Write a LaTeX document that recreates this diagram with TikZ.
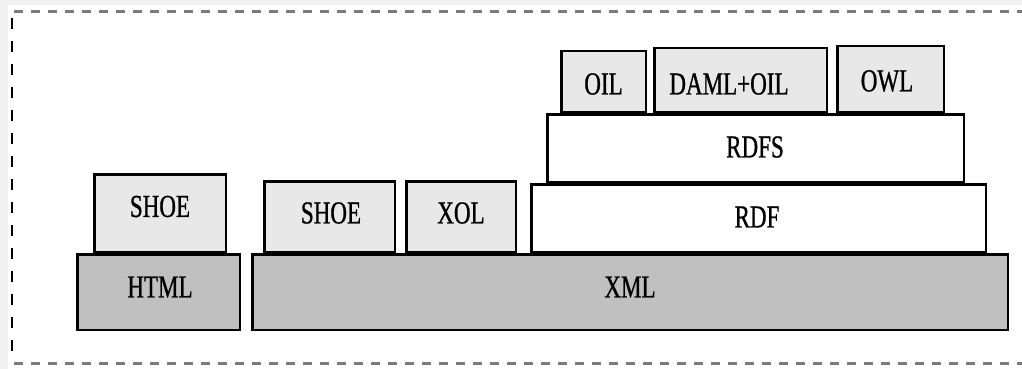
\documentclass[tikz,border=0pt]{standalone}
\usepackage{fontspec}
\newfontfamily\lblfont[FakeStretch=0.72, FakeBold=0.8]{Liberation Serif}
\definecolor{layergray}{HTML}{C0C0C0}
\definecolor{langgray}{HTML}{E8E8E8}
\definecolor{dashgray}{HTML}{7A7A7A}
\definecolor{edgegray}{HTML}{F0F0F0}
\tikzset{
  layer/.style={draw=black, line width=2.5pt, rectangle, inner sep=0pt},
  base/.style={layer, fill=layergray},
  lang/.style={layer, fill=langgray},
  plain/.style={layer, fill=white},
  lbl/.style={inner sep=0pt, font=\lblfont\fontsize{32}{36}\selectfont}
}
\begin{document}
\begin{tikzpicture}[x=1pt, y=-1pt]
  % page and frame
  \fill[edgegray] (0,0) rectangle (1022,369);
  \fill[white] (8,5) rectangle (1022,369);
  \useasboundingbox (0,0) rectangle (1022,369);
  \draw[dashgray, line width=3pt, dash pattern=on 9pt off 8pt] (14,12) -- (1022,12);
  \draw[dashgray, line width=3pt, dash pattern=on 9pt off 8pt] (14,363) -- (1022,363);
  \draw[black, line width=2.5pt, dash pattern=on 11pt off 12pt] (12,18) -- (12,360);

  % upper layers
  \node[lang, minimum width=131.5pt, minimum height=77.5pt] (shoeA) at (160,213) {};
  \node[lang, minimum width=130.5pt, minimum height=70.5pt] (shoeB) at (329.5,216.5) {};
  \node[lang, minimum width=109.5pt, minimum height=70.5pt] (xol) at (461,216.5) {};
  \node[plain, minimum width=454.5pt, minimum height=67.5pt] (rdf) at (758.5,218) {};
  \node[plain, minimum width=416.5pt, minimum height=67.5pt] (rdfs) at (755.5,148) {};
  \node[lang, minimum width=84.5pt, minimum height=60.5pt] (oil) at (603.5,81.5) {};
  \node[lang, minimum width=172.5pt, minimum height=63.5pt] (daml) at (740.5,80) {};
  \node[lang, minimum width=106.5pt, minimum height=65.5pt] (owl) at (890.5,79) {};

  % base layers
  \node[base, minimum width=162.5pt, minimum height=75.5pt] (html) at (158.5,292) {};
  \node[base, minimum width=755.5pt, minimum height=75.5pt] (xml) at (630,292) {};

  % labels
  \node[lbl] (tshoeA) at (160,206.5) {SHOE};
  \node[lbl] (thtml) at (160,287) {HTML};
  \node[lbl] (tshoeB) at (331,213) {SHOE};
  \node[lbl] (txol) at (461,213) {XOL};
  \node[lbl] (trdf) at (757,217) {RDF};
  \node[lbl] (trdfs) at (755,147) {RDFS};
  \node[lbl] (toil) at (603.5,84) {OIL};
  \node[lbl] (tdaml) at (729,84) {DAML+OIL};
  \node[lbl] (towl) at (887,81) {OWL};
  \node[lbl] (txml) at (630,287) {XML};
\end{tikzpicture}
\end{document}
